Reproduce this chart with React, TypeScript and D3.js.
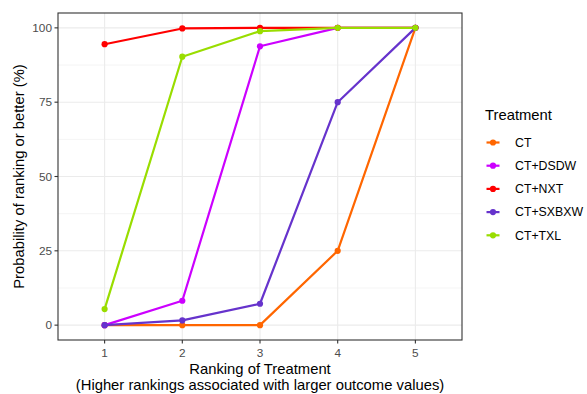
import React from "react";
import * as d3 from "d3";

const ranks = ["1", "2", "3", "4", "5"];
const treatments = ["CT", "CT+DSDW", "CT+NXT", "CT+SXBXW", "CT+TXL"];
const colors = ["#FF6600", "#CC00FF", "#FF0000", "#6633CC", "#99DD00"];
const ctValues = [0, 0, 0, 25, 100];
const dsdwValues = [0, 8.2, 93.8, 100, 100];
const nxtValues = [94.5, 99.8, 100, 100, 100];
const sxbxwValues = [0, 1.6, 7.2, 75, 100];
const txlValues = [5.4, 90.3, 98.9, 100, 100];
const yTicks = [0, 25, 50, 75, 100];
const yMinor = [12.5, 37.5, 62.5, 87.5];

const seriesValues = [ctValues, dsdwValues, nxtValues, sxbxwValues, txlValues];

const W = 587;
const H = 394;
const panel = { left: 58, right: 462, top: 13, bottom: 340 };
const font = "'Liberation Sans', Arial, Helvetica, sans-serif";

export default function App() {
  const x = d3.scalePoint<string>().domain(ranks).range([panel.left, panel.right]).padding(0.6);
  const y = d3.scaleLinear().domain([-5, 105]).range([panel.bottom, panel.top]);
  const line = d3
    .line<number>()
    .x((_, i) => x(ranks[i]) as number)
    .y((d) => y(d));

  const legendX = 486.5;
  const legendY0 = 142.5;
  const legendStep = 23.2;

  return (
    <svg width={W} height={H} style={{ position: "absolute", left: 0, top: 0, background: "#fff" }} fontFamily={font}>
      <rect x={0} y={0} width={W} height={H} fill="#fff" />
      {/* grid */}
      {yMinor.map((t) => (
        <line key={"mn" + t} x1={panel.left} x2={panel.right} y1={y(t)} y2={y(t)} stroke="#EBEBEB" strokeWidth={0.55} />
      ))}
      {yTicks.map((t) => (
        <line key={"mj" + t} x1={panel.left} x2={panel.right} y1={y(t)} y2={y(t)} stroke="#EBEBEB" strokeWidth={1.1} />
      ))}
      {ranks.map((r) => (
        <line key={"vx" + r} x1={x(r)} x2={x(r)} y1={panel.top} y2={panel.bottom} stroke="#EBEBEB" strokeWidth={1.1} />
      ))}
      {/* series, drawn in treatment order */}
      {seriesValues.map((vals, si) => (
        <g key={treatments[si]}>
          <path d={line(vals) || ""} fill="none" stroke={colors[si]} strokeWidth={2.2} strokeLinejoin="round" />
          {vals.map((v, i) => (
            <circle key={i} cx={x(ranks[i])} cy={y(v)} r={3.1} fill={colors[si]} />
          ))}
        </g>
      ))}
      {/* panel border */}
      <rect
        x={panel.left}
        y={panel.top}
        width={panel.right - panel.left}
        height={panel.bottom - panel.top}
        fill="none"
        stroke="#333333"
        strokeWidth={1.1}
      />
      {/* y axis */}
      {yTicks.map((t) => (
        <g key={"yt" + t}>
          <line x1={panel.left - 3.5} x2={panel.left} y1={y(t)} y2={y(t)} stroke="#333333" strokeWidth={1.1} />
          <text x={panel.left - 6} y={y(t)} dy="0.35em" textAnchor="end" fontSize={11.8} fill="#4D4D4D">
            {t}
          </text>
        </g>
      ))}
      {/* x axis */}
      {ranks.map((r) => (
        <g key={"xt" + r}>
          <line x1={x(r)} x2={x(r)} y1={panel.bottom} y2={panel.bottom + 3.5} stroke="#333333" strokeWidth={1.1} />
          <text x={x(r)} y={panel.bottom + 13} dy="0.35em" textAnchor="middle" fontSize={11.8} fill="#4D4D4D">
            {r}
          </text>
        </g>
      ))}
      <text x={(panel.left + panel.right) / 2} y={374} textAnchor="middle" fontSize={14.8} fill="#000">
        Ranking of Treatment
      </text>
      <text x={(panel.left + panel.right) / 2} y={390} textAnchor="middle" fontSize={14.8} fill="#000">
        (Higher rankings associated with larger outcome values)
      </text>
      <text
        transform={`translate(24, ${(panel.top + panel.bottom) / 2}) rotate(-90)`}
        textAnchor="middle"
        fontSize={14.8}
        fill="#000"
      >
        Probability of ranking or better (%)
      </text>
      {/* legend */}
      <text x={485} y={120} fontSize={14.8} fill="#000">
        Treatment
      </text>
      {treatments.map((tr, i) => {
        const cy = legendY0 + i * legendStep;
        return (
          <g key={"lg" + tr}>
            <line x1={legendX} x2={legendX + 13} y1={cy} y2={cy} stroke={colors[i]} strokeWidth={2.2} />
            <circle cx={legendX + 6.5} cy={cy} r={3.1} fill={colors[i]} />
            <text x={515} y={cy} dy="0.35em" fontSize={12.3} fill="#000">
              {tr}
            </text>
          </g>
        );
      })}
    </svg>
  );
}
